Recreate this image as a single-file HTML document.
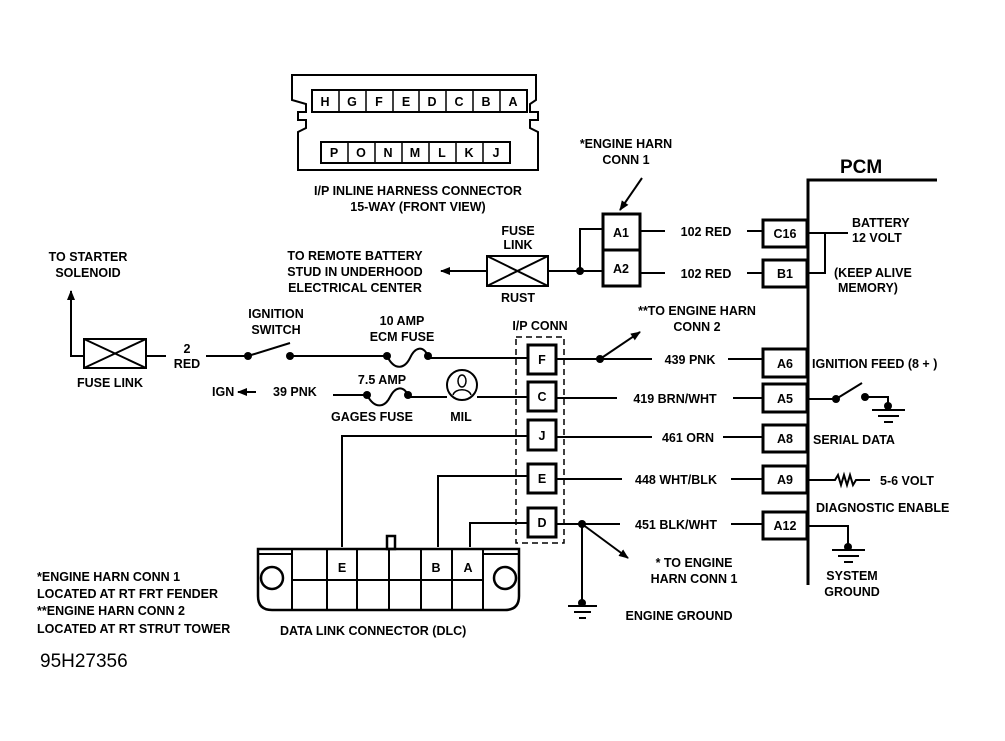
<!DOCTYPE html>
<html><head><meta charset="utf-8"><style>
html,body{margin:0;padding:0;background:#fff;}
svg{display:block;}
text{font-family:"Liberation Sans",sans-serif;font-weight:bold;font-size:12.5px;fill:#000;}
</style></head><body>
<svg width="1005" height="741" viewBox="0 0 1005 741" xmlns="http://www.w3.org/2000/svg">
<defs><marker id="ar" markerWidth="10" markerHeight="8" refX="9" refY="4" orient="auto" markerUnits="userSpaceOnUse"><path d="M0,0 L10,4 L0,8 Z" fill="#000"/></marker></defs>
<g stroke="#000" fill="none" stroke-width="2">
<path d="M300,75 H536 V100 L530,104 V112 L538,112 V120 L530,120 V128 L538,132 V170 H298 V132 L306,128 V120 L298,120 V112 L306,112 V104 L292,100 V75 Z"/>
<rect x="312" y="90" width="215" height="22"/>
<rect x="321" y="142" width="189" height="21"/>
</g>
<g stroke="#000" stroke-width="1.5">
<line x1="339" y1="90" x2="339" y2="112"/><line x1="366" y1="90" x2="366" y2="112"/><line x1="393" y1="90" x2="393" y2="112"/><line x1="419" y1="90" x2="419" y2="112"/><line x1="446" y1="90" x2="446" y2="112"/><line x1="473" y1="90" x2="473" y2="112"/><line x1="500" y1="90" x2="500" y2="112"/>
<line x1="348" y1="142" x2="348" y2="163"/><line x1="375" y1="142" x2="375" y2="163"/><line x1="402" y1="142" x2="402" y2="163"/><line x1="429" y1="142" x2="429" y2="163"/><line x1="456" y1="142" x2="456" y2="163"/><line x1="483" y1="142" x2="483" y2="163"/>
</g>
<g style="font-size:10px;font-weight:normal" text-anchor="middle">
<text x="325" y="106">H</text><text x="352" y="106">G</text><text x="379" y="106">F</text><text x="406" y="106">E</text><text x="432" y="106">D</text><text x="459" y="106">C</text><text x="486" y="106">B</text><text x="513" y="106">A</text>
<text x="334" y="157">P</text><text x="361" y="157">O</text><text x="388" y="157">N</text><text x="415" y="157">M</text><text x="442" y="157">L</text><text x="469" y="157">K</text><text x="496" y="157">J</text>
</g>
<text x="418" y="195" text-anchor="middle">I/P INLINE HARNESS CONNECTOR</text>
<text x="418" y="211" text-anchor="middle">15-WAY (FRONT VIEW)</text>

<text x="840" y="173" style="font-size:19px">PCM</text>
<g stroke="#000" fill="none" stroke-width="3">
<polyline points="808,585 808,180 937,180"/>
</g>
<g stroke="#000" fill="#fff" stroke-width="3">
<rect x="763" y="220" width="44" height="27"/>
<rect x="763" y="260" width="44" height="27"/>
<rect x="763" y="349" width="44" height="28"/>
<rect x="763" y="384" width="44" height="28"/>
<rect x="763" y="425" width="44" height="27"/>
<rect x="763" y="466" width="44" height="27"/>
<rect x="763" y="512" width="44" height="27"/>
<rect x="603" y="214" width="37" height="36"/>
<rect x="603" y="250" width="37" height="36"/>
<rect x="528" y="345" width="28" height="29"/>
<rect x="528" y="382" width="28" height="29"/>
<rect x="528" y="420" width="28" height="30"/>
<rect x="528" y="464" width="28" height="29"/>
<rect x="528" y="508" width="28" height="29"/>
</g>
<g text-anchor="middle">
<text x="785" y="238">C16</text><text x="785" y="278">B1</text><text x="785" y="368">A6</text><text x="785" y="403">A5</text><text x="785" y="443">A8</text><text x="785" y="484">A9</text><text x="785" y="530">A12</text>
<text x="621" y="237">A1</text><text x="621" y="273">A2</text>
<text x="542" y="364">F</text><text x="542" y="401">C</text><text x="542" y="440">J</text><text x="542" y="483">E</text><text x="542" y="527">D</text>
</g>
<rect x="516" y="337" width="48" height="206" fill="none" stroke="#000" stroke-width="1.5" stroke-dasharray="6,4"/>

<g stroke="#000" fill="none" stroke-width="2">
<line x1="640" y1="231" x2="665" y2="231"/><line x1="747" y1="231" x2="763" y2="231"/>
<line x1="640" y1="273" x2="665" y2="273"/><line x1="747" y1="273" x2="763" y2="273"/>
<polyline points="808,233 825,233 825,273 808,273"/><line x1="825" y1="233" x2="848" y2="233"/>
<rect x="487" y="256" width="61" height="30"/><line x1="487" y1="256" x2="548" y2="286"/><line x1="487" y1="286" x2="548" y2="256"/>
<line x1="487" y1="271" x2="441" y2="271" marker-end="url(#ar)"/>
<line x1="548" y1="271" x2="603" y2="271"/>
<polyline points="580,271 580,229 603,229"/>
<rect x="84" y="339" width="62" height="29"/><line x1="84" y1="339" x2="146" y2="368"/><line x1="84" y1="368" x2="146" y2="339"/>
<polyline points="84,356 71,356 71,291" marker-end="url(#ar)"/>
<line x1="146" y1="356" x2="166" y2="356"/>
<line x1="206" y1="356" x2="248" y2="356"/>
<line x1="248" y1="356" x2="290" y2="343"/>
<line x1="290" y1="356" x2="384" y2="356"/>
<path d="M387,356 C395,372 405,368 410,358 C415,347 423,345 428,356"/>
<line x1="428" y1="358" x2="528" y2="358"/>
<line x1="256" y1="392" x2="238" y2="392" marker-end="url(#ar)"/>
<line x1="333" y1="395" x2="367" y2="395"/>
<path d="M367,395 C375,410 385,407 390,397 C395,387 403,385 408,395"/>
<line x1="408" y1="397" x2="447" y2="397"/>
<circle cx="462" cy="385" r="15"/>
<line x1="477" y1="397" x2="528" y2="397"/>
<polyline points="528,436 342,436 342,547"/>
<polyline points="528,476 438,476 438,547"/>
<polyline points="528,523 470,523 470,547"/>
<line x1="556" y1="359" x2="652" y2="359"/><line x1="728" y1="359" x2="763" y2="359"/>
<line x1="600" y1="359" x2="640" y2="332" marker-end="url(#ar)"/>
<line x1="556" y1="398" x2="617" y2="398"/><line x1="733" y1="398" x2="763" y2="398"/>
<line x1="556" y1="437" x2="652" y2="437"/><line x1="723" y1="437" x2="763" y2="437"/>
<line x1="556" y1="479" x2="622" y2="479"/><line x1="731" y1="479" x2="763" y2="479"/>
<line x1="556" y1="524" x2="620" y2="524"/><line x1="731" y1="524" x2="763" y2="524"/>
<line x1="582" y1="524" x2="628" y2="558" marker-end="url(#ar)"/>
<line x1="582" y1="524" x2="582" y2="600"/>
<line x1="568" y1="606" x2="597" y2="606"/><line x1="574" y1="612" x2="591" y2="612"/><line x1="579" y1="618" x2="586" y2="618"/>
<line x1="808" y1="399" x2="836" y2="399"/><line x1="836" y1="399" x2="862" y2="383"/>
<polyline points="865,397 888,397 888,405"/>
<line x1="872" y1="410" x2="905" y2="410"/><line x1="878" y1="416" x2="899" y2="416"/><line x1="884" y1="422" x2="893" y2="422"/>
<polyline points="808,480 835,480 838,475 841,485 844,475 847,485 850,475 853,485 856,480 870,480"/>
<polyline points="808,526 848,526 848,545"/>
<line x1="832" y1="550" x2="865" y2="550"/><line x1="838" y1="556" x2="859" y2="556"/><line x1="844" y1="562" x2="853" y2="562"/>
<line x1="642" y1="178" x2="620" y2="210" marker-end="url(#ar)"/>
</g>
<g fill="#000">
<circle cx="580" cy="271" r="4"/><circle cx="248" cy="356" r="4"/><circle cx="290" cy="356" r="4"/>
<circle cx="387" cy="356" r="4"/><circle cx="428" cy="356" r="4"/><circle cx="367" cy="395" r="4"/><circle cx="408" cy="395" r="4"/>
<circle cx="600" cy="359" r="4"/><circle cx="582" cy="524" r="4"/><circle cx="582" cy="603" r="4"/>
<circle cx="836" cy="399" r="4"/><circle cx="865" cy="397" r="4"/><circle cx="888" cy="406" r="4"/><circle cx="848" cy="547" r="4"/>
</g>
<g stroke="#000" fill="none" stroke-width="1.5">
<ellipse cx="462" cy="381" rx="4" ry="6"/><path d="M453,395 C455,388 469,388 471,395"/>
</g>

<g stroke="#000" fill="none" stroke-width="2.5">
<path d="M258,549 H519 V596 Q519,610 505,610 H272 Q258,610 258,596 Z"/>
<rect x="387" y="536" width="8" height="13"/>
<circle cx="272" cy="578" r="11"/><circle cx="505" cy="578" r="11"/>
</g>
<g stroke="#000" stroke-width="2">
<line x1="258" y1="554" x2="292" y2="554"/><line x1="483" y1="554" x2="519" y2="554"/>
<line x1="292" y1="549" x2="292" y2="610"/><line x1="327" y1="549" x2="327" y2="610"/><line x1="357" y1="549" x2="357" y2="610"/><line x1="389" y1="549" x2="389" y2="610"/><line x1="421" y1="549" x2="421" y2="610"/><line x1="452" y1="549" x2="452" y2="610"/><line x1="483" y1="549" x2="483" y2="610"/>
<line x1="292" y1="580" x2="483" y2="580"/>
</g>
<text x="342" y="572" text-anchor="middle">E</text><text x="436" y="572" text-anchor="middle">B</text><text x="468" y="572" text-anchor="middle">A</text>
<text x="280" y="635">DATA LINK CONNECTOR (DLC)</text>

<text x="626" y="148" text-anchor="middle">*ENGINE HARN</text>
<text x="626" y="164" text-anchor="middle">CONN 1</text>
<text x="706" y="236" text-anchor="middle">102 RED</text>
<text x="706" y="278" text-anchor="middle">102 RED</text>
<text x="852" y="227">BATTERY</text><text x="852" y="242">12 VOLT</text>
<text x="834" y="277">(KEEP ALIVE</text><text x="838" y="292">MEMORY)</text>
<text x="518" y="235" text-anchor="middle">FUSE</text><text x="518" y="249" text-anchor="middle">LINK</text>
<text x="518" y="302" text-anchor="middle">RUST</text>
<text x="355" y="260" text-anchor="middle">TO REMOTE BATTERY</text>
<text x="355" y="276" text-anchor="middle">STUD IN UNDERHOOD</text>
<text x="355" y="292" text-anchor="middle">ELECTRICAL CENTER</text>
<text x="88" y="261" text-anchor="middle">TO STARTER</text><text x="88" y="277" text-anchor="middle">SOLENOID</text>
<text x="110" y="387" text-anchor="middle">FUSE LINK</text>
<text x="187" y="353" text-anchor="middle">2</text><text x="187" y="368" text-anchor="middle">RED</text>
<text x="276" y="318" text-anchor="middle">IGNITION</text><text x="276" y="334" text-anchor="middle">SWITCH</text>
<text x="402" y="325" text-anchor="middle">10 AMP</text><text x="402" y="341" text-anchor="middle">ECM FUSE</text>
<text x="212" y="396">IGN</text><text x="273" y="396">39 PNK</text>
<text x="382" y="384" text-anchor="middle">7.5 AMP</text>
<text x="372" y="421" text-anchor="middle">GAGES FUSE</text>
<text x="461" y="421" text-anchor="middle">MIL</text>
<text x="540" y="330" text-anchor="middle">I/P CONN</text>
<text x="697" y="315" text-anchor="middle">**TO ENGINE HARN</text>
<text x="697" y="331" text-anchor="middle">CONN 2</text>
<text x="690" y="364" text-anchor="middle">439 PNK</text>
<text x="675" y="403" text-anchor="middle">419 BRN/WHT</text>
<text x="688" y="442" text-anchor="middle">461 ORN</text>
<text x="676" y="484" text-anchor="middle">448 WHT/BLK</text>
<text x="676" y="529" text-anchor="middle">451 BLK/WHT</text>
<text x="812" y="368">IGNITION FEED (8 + )</text>
<text x="813" y="444">SERIAL DATA</text>
<text x="880" y="485">5-6 VOLT</text>
<text x="816" y="512">DIAGNOSTIC ENABLE</text>
<text x="852" y="580" text-anchor="middle">SYSTEM</text><text x="852" y="596" text-anchor="middle">GROUND</text>
<text x="694" y="567" text-anchor="middle">* TO ENGINE</text><text x="694" y="583" text-anchor="middle">HARN CONN 1</text>
<text x="679" y="620" text-anchor="middle">ENGINE GROUND</text>
<text x="37" y="581">*ENGINE HARN CONN 1</text>
<text x="37" y="598">LOCATED AT RT FRT FENDER</text>
<text x="37" y="615">**ENGINE HARN CONN 2</text>
<text x="37" y="633">LOCATED AT RT STRUT TOWER</text>
<text x="40" y="667" style="font-weight:normal;font-size:19px">95H27356</text>
</svg>
</body></html>
